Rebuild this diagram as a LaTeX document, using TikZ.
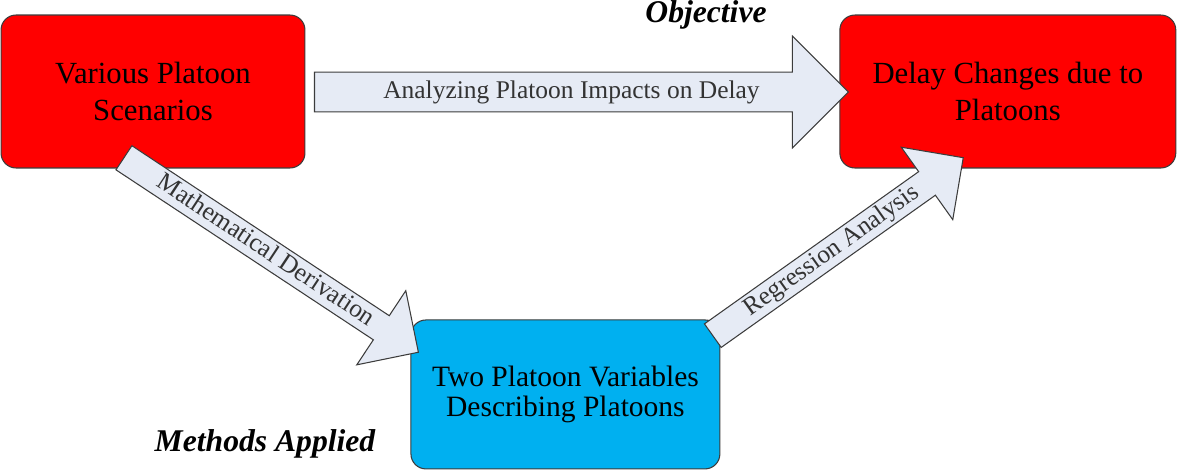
\documentclass[tikz,border=0pt]{standalone}
\usepackage{fontspec}
\setmainfont{Liberation Serif}
\usetikzlibrary{shapes.arrows, positioning, calc}

\definecolor{boxred}{HTML}{FF0000}
\definecolor{boxblue}{HTML}{00B0F0}
\definecolor{arrowfill}{HTML}{E6EBF5}
\definecolor{edgegray}{HTML}{3C3C3C}

\begin{document}
\begin{tikzpicture}[x=0.02cm, y=-0.02cm,
    box/.style={rectangle, rounded corners=0.3cm, draw=edgegray,
                line width=0.6pt, outer sep=0pt, align=center},
    flow/.style={single arrow, single arrow tip angle=90, anchor=tail,
                 draw=edgegray, fill=arrowfill, line width=0.6pt,
                 inner xsep=0pt, text height=10pt, text depth=3pt,
                 text=black!80, font=\fontsize{14.5}{17}\selectfont},
    tag/.style={font=\fontsize{18}{21}\selectfont\bfseries\itshape}]
    \useasboundingbox (0,0) rectangle (1191,471);

    % Add the boxes
        \node[box,
              fill=boxred,
              minimum width=6.08cm,
              minimum height=3.06cm,
              font=\fontsize{17.5}{21}\selectfont] (scen) at (153,91.5)
              {Various Platoon\\Scenarios};
        \node[box,
              right=10.7cm of scen,
              fill=boxred,
              minimum width=6.72cm,
              minimum height=3.06cm,
              font=\fontsize{17.5}{21}\selectfont] (delay)
              {Delay Changes due to\\Platoons};
        \node[box,
              below right=3.04cm and 2.12cm of scen,
              fill=boxblue,
              minimum width=6.18cm,
              minimum height=2.98cm,
              font=\fontsize{16.8}{17.5}\selectfont] (vars)
              {Two Platoon Variables\\Describing Platoons};

    % Ends of the block arrows
        \coordinate (an-s) at ($(scen.east)+(9,0.5)$);
        \coordinate (an-t) at ($(delay.west)+(8,0.5)$);
        \coordinate (md-s) at ($(scen.south)+(-29.5,-10.5)$);
        \coordinate (md-t) at ($(vars.north west)+(7,32)$);
        \coordinate (ra-s) at ($(vars.north east)+(-7.5,16)$);
        \coordinate (ra-t) at ($(delay.south)+(-45,-10)$);

    % Add the block arrows
        \path let \p1=($(an-t)-(an-s)$), \n1={atan2(\y1,\x1)},
                  \n2={veclen(\x1,\y1)} in
            node[flow,
                 rotate=\n1,
                 minimum height=\n2,
                 inner ysep=0.16cm,
                 single arrow head extend=0.72cm] (an) at (an-s)
            {Analyzing Platoon Impacts on Delay};
        \path let \p1=($(md-t)-(md-s)$), \n1={atan2(\y1,\x1)},
                  \n2={veclen(\x1,\y1)} in
            node[flow,
                 rotate=\n1,
                 minimum height=\n2,
                 inner ysep=0.05cm,
                 single arrow head extend=0.6cm] (md) at (md-s)
            {Mathematical Derivation};
        \path let \p1=($(ra-t)-(ra-s)$), \n1={atan2(\y1,\x1)},
                  \n2={veclen(\x1,\y1)} in
            node[flow,
                 rotate=\n1,
                 minimum height=\n2,
                 inner ysep=0.05cm,
                 single arrow head extend=0.6cm] (ra) at (ra-s)
            {Regression Analysis};

    % Add the labels
        \node[tag] (obj) at (706,15) {Objective};
        \node[tag] (meth) at (265,444) {Methods Applied};
\end{tikzpicture}
\end{document}
